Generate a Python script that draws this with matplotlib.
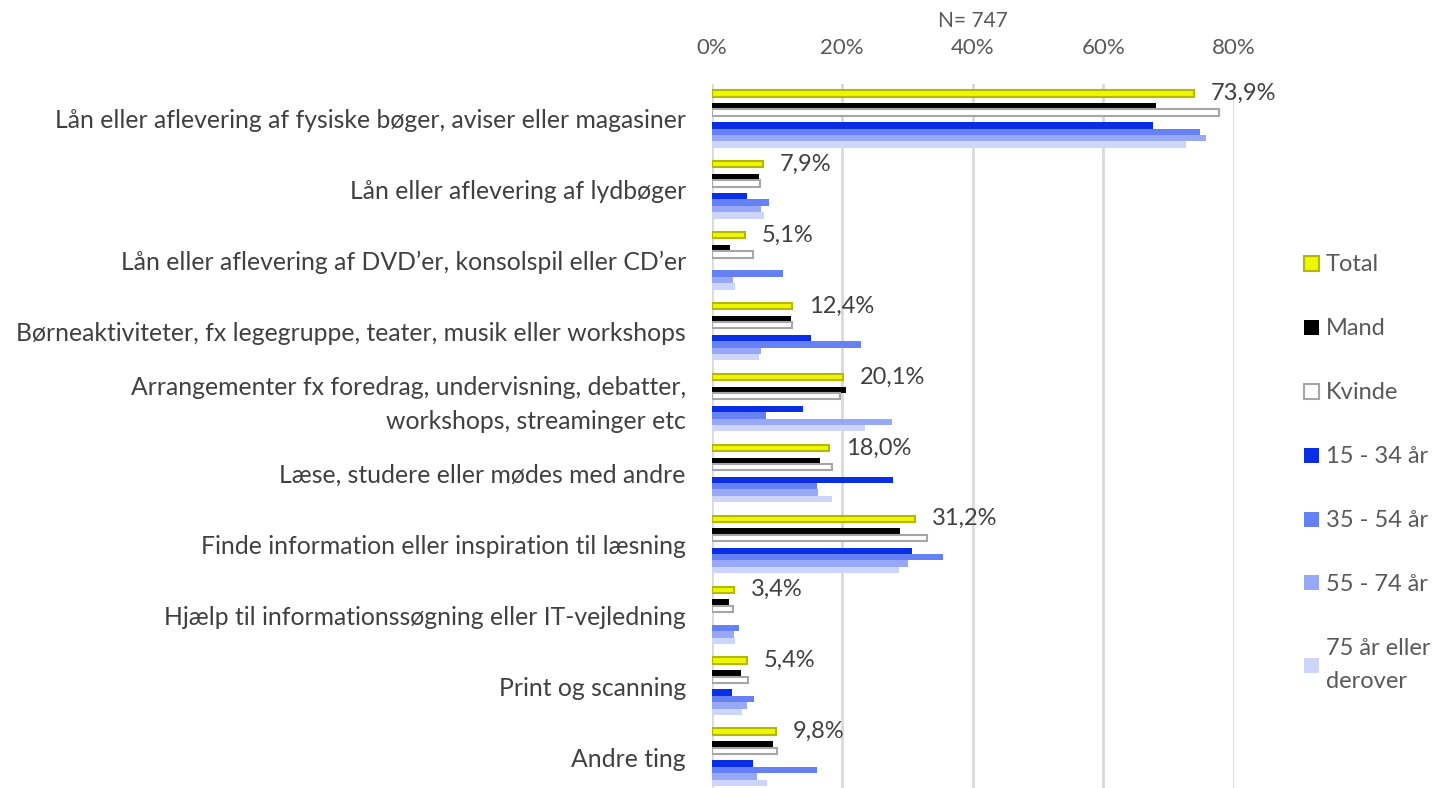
import matplotlib
matplotlib.use("Agg")
import matplotlib.pyplot as plt
from matplotlib.patches import Patch
from matplotlib.transforms import ScaledTranslation
import numpy as np

plt.rcParams['font.family'] = ['Lato', 'DejaVu Sans']

categories = [
    "Lån eller aflevering af fysiske bøger, aviser eller magasiner",
    "Lån eller aflevering af lydbøger",
    "Lån eller aflevering af DVD’er, konsolspil eller CD’er",
    "Børneaktiviteter, fx legegruppe, teater, musik eller workshops",
    "Arrangementer fx foredrag, undervisning, debatter,\nworkshops, streaminger etc",
    "Læse, studere eller mødes med andre",
    "Finde information eller inspiration til læsning",
    "Hjælp til informationssøgning eller IT-vejledning",
    "Print og scanning",
    "Andre ting",
]

total   = [73.9, 7.9, 5.1, 12.4, 20.1, 18.0, 31.2, 3.4, 5.4, 9.8]
mand    = [68.0, 7.2, 2.9, 12.1, 20.6, 16.6, 28.8, 2.7, 4.5, 9.4]
kvinde  = [77.7, 7.5, 6.3, 12.3, 19.6, 18.4, 33.0, 3.3, 5.6, 10.1]
age1534 = [67.6, 5.4, 0.0, 15.2, 14.0, 27.8, 30.7, 0.0, 3.2, 6.3]
age3554 = [74.8, 8.8, 11.0, 22.9, 8.4, 16.2, 35.5, 4.2, 6.5, 16.2]
age5574 = [75.7, 7.6, 3.3, 7.6, 27.6, 16.3, 30.1, 3.4, 5.5, 7.0]
age75   = [72.6, 8.1, 3.6, 7.3, 23.5, 18.4, 28.7, 3.6, 4.6, 8.5]

series_names = ["Total", "Mand", "Kvinde", "15 - 34 år", "35 - 54 år",
                "55 - 74 år", "75 år eller\nderover"]
series_values = [total, mand, kvinde, age1534, age3554, age5574, age75]
series_slots = [0, 2, 3, 5, 6, 7, 8]
face_colors = ["#EEF700", "#000000", "#FFFFFF", "#0A2EE6", "#6680F5", "#97A9F6", "#CDD5FB"]
edge_colors = ["#B5B800", "#000000", "#A6A6A6", "#0A2EE6", "#6680F5", "#97A9F6", "#CDD5FB"]
edge_widths = [1.5, 0.0, 1.5, 0.0, 0.0, 0.0, 0.0]

W, H = 1439, 788
fig = plt.figure(figsize=(W / 100, H / 100), dpi=100)
ax_left, ax_right = 711.5, 1234
ax_top, ax_bottom = 83.5, 788
ax = fig.add_axes([ax_left / W, (H - ax_bottom) / H,
                   (ax_right - ax_left) / W, (ax_bottom - ax_top) / H])

cat_spacing = 70.9
slot = 6.4 / cat_spacing
y = np.arange(len(categories))
for vals, name, k, fc, ec, lw in zip(series_values, series_names, series_slots,
                                    face_colors, edge_colors, edge_widths):
    ax.barh(y + (k - 4) * slot, vals, height=slot * 1.0, color=fc,
            edgecolor=ec, linewidth=lw, label=name, zorder=3)

for i, v in enumerate(total):
    ax.text(v + 2.6, y[i] + (0 - 4) * slot, f"{v:.1f}%".replace(".", ","),
            va="center", ha="left", fontsize=17, color="#404040", clip_on=False)

ax.set_xlim(0, 80)
ax.set_ylim((ax_bottom - 119) / cat_spacing, -(119 - ax_top) / cat_spacing)
ax.set_xticks([0, 20, 40, 60, 80])
ax.set_xticklabels([f"{t}%" for t in [0, 20, 40, 60, 80]])
ax.xaxis.tick_top()
ax.xaxis.set_label_position("top")
ax.set_xlabel("N= 747", fontsize=15, color="#595959", labelpad=8)
ax.tick_params(axis="x", length=0, labelsize=16, labelcolor="#595959", pad=18)
ax.set_yticks(y)
ax.set_yticklabels(categories)
ax.tick_params(axis="y", length=0, labelsize=17.8, labelcolor="#404040", pad=18.5)
for lab in ax.get_yticklabels():
    lab.set_multialignment("right")
    lab.set_linespacing(1.6)
    if "\n" in lab.get_text():
        lab.set_transform(lab.get_transform() +
                          ScaledTranslation(0, 6 / 100, fig.dpi_scale_trans))
ax.grid(axis="x", color="#D9D9D9", linewidth=2, zorder=0)
for s in ax.spines.values():
    s.set_visible(False)

handles = [Patch(facecolor=fc, edgecolor=ec, linewidth=1.5 if ec != fc else 0)
           for fc, ec in zip(face_colors, edge_colors)]
leg = fig.legend(handles, series_names, loc="upper left",
                 bbox_to_anchor=(1295 / W, 1 - 245 / H), frameon=False,
                 fontsize=17, labelcolor="#595959", handlelength=0.6, handleheight=0.6,
                 handletextpad=0.3, labelspacing=1.82, borderaxespad=0)
for t in leg.get_texts():
    t.set_linespacing(1.7)

fig.savefig("out.png", dpi=100)
